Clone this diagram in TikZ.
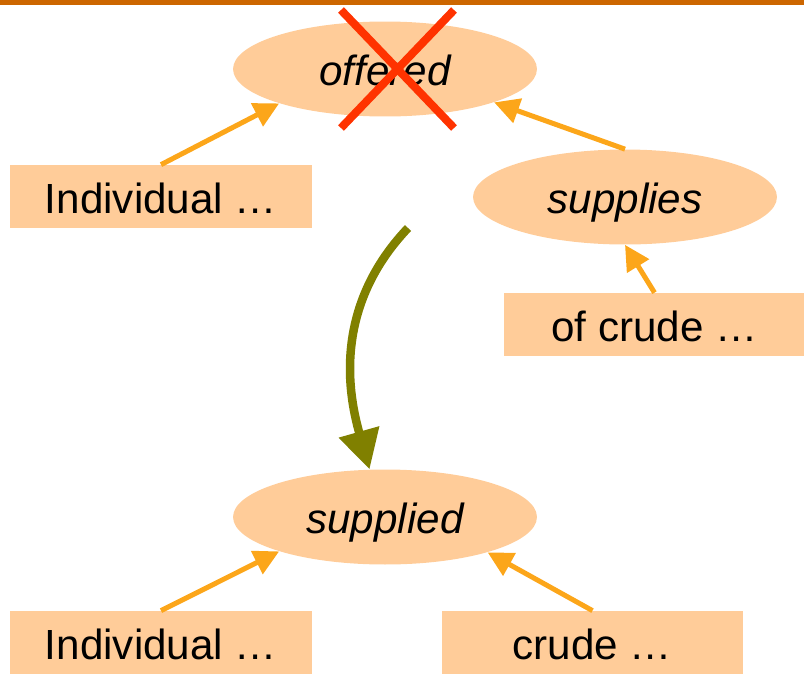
\documentclass[tikz,border=0pt]{standalone}
\usepackage{fontspec}
\setmainfont{Liberation Sans}
\usetikzlibrary{arrows.meta, shapes.geometric}
\definecolor{peach}{RGB}{255,204,153}
\definecolor{arroworange}{RGB}{252,166,26}
\definecolor{darkolive}{RGB}{128,128,0}
\definecolor{crossred}{RGB}{255,51,0}
\definecolor{barbrown}{RGB}{204,102,0}

\begin{document}
\begin{tikzpicture}[
  x=0.02cm, y=-0.02cm,
  every node/.style={fill=peach, inner sep=0pt, text depth=0pt, text height=19pt, font=\fontsize{24}{29}\selectfont},
  verb/.style={ellipse, minimum width=6.08cm, minimum height=1.9cm, font=\fontsize{24}{29}\selectfont\itshape},
  phrase/.style={rectangle, minimum width=6.04cm, minimum height=1.26cm},
  link/.style={draw=arroworange, line width=0.1cm, -{Triangle[length=0.5cm, width=0.5cm]}}
]
  \useasboundingbox (0,0) rectangle (804,673);
  \fill[barbrown] (0,0) rectangle (804,5);

  \node[verb] (offered) at (385,69) {offered};
  \node[verb] (supplies) at (625,197) {supplies};
  \node[verb] (supplied) at (385,517) {supplied};

  \node[phrase] (ind1) at (161,196.5) {Individual …};
  \node[phrase] (crude1) at (654.5,324.5) {of crude …};
  \node[phrase] (ind2) at (161,642.5) {Individual …};
  \node[phrase] (crude2) at (592.5,642.5) {crude …};

  \draw[link] (ind1.north) -- (offered.198);
  \draw[link] (supplies.north) -- (offered.343);
  \draw[link] (crude1.north) -- (supplies.south);
  \draw[link] (ind2.north) -- (supplied.198);
  \draw[link] (crude2.north) -- (supplied.341);

  % the crossed-out verb
  \draw[crossred, line width=0.16cm] (341,10) -- (454,128);
  \draw[crossred, line width=0.16cm] (454,10) -- (341,128);

  \coordinate (shift) at (408,228);
  \draw[darkolive, line width=0.17cm, -{Triangle[length=0.78cm, width=0.8cm]}]
    (shift) .. controls (330,310) and (350,400) .. (supplied.108);
\end{tikzpicture}
\end{document}
